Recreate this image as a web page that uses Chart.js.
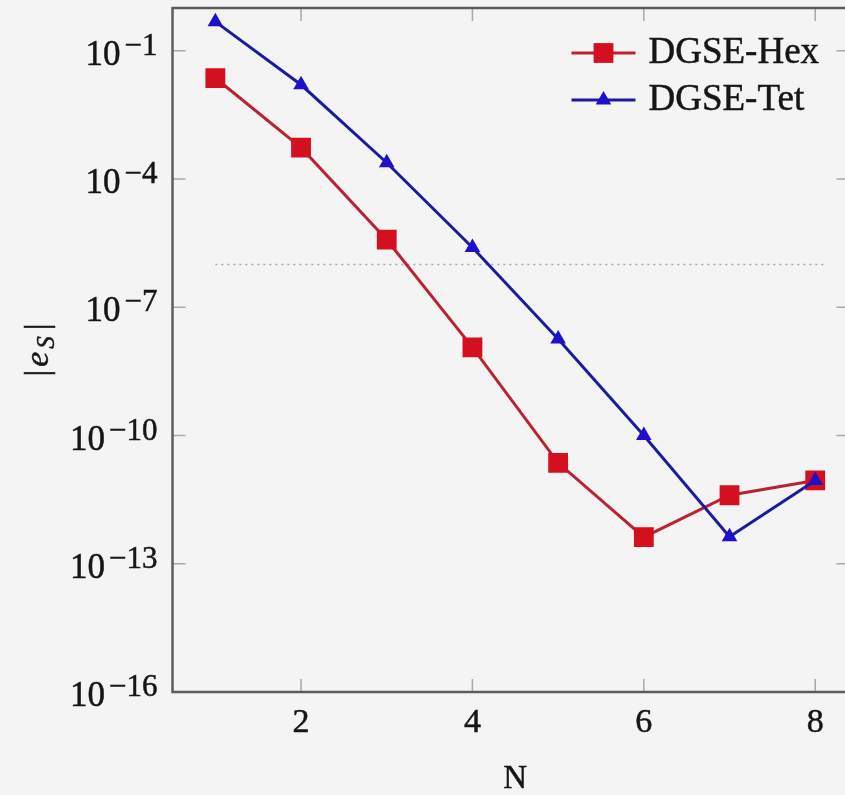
<!DOCTYPE html>
<html>
<head>
<meta charset="utf-8">
<script src="https://cdn.jsdelivr.net/npm/chart.js@4.4.1/dist/chart.umd.min.js"></script>
<style>
  html, body { margin: 0; padding: 0; background: #f4f4f4; overflow: hidden; }
  canvas { display: block; }
</style>
</head>
<body>
<canvas id="errChart" width="870" height="795"></canvas>
<script>
// polynomial order N and the error |e_S|
const orders = [1, 2, 3, 4, 5, 6, 7, 8];
const hexErr = [2.3e-2, 5.4e-4, 3.8e-6, 1.15e-8, 2.3e-11, 4.2e-13, 4.0e-12, 8.9e-12];
const tetErr = [4.8e-1, 1.6e-2, 2.4e-4, 2.5e-6, 1.8e-8, 1.0e-10, 4.3e-13, 8.9e-12];

// dotted reference level
const refLevel = 1e-6;
const refSpan = [1, 8.1];

const xTicks = [2, 4, 6, 8];
const yTicks = [1e-1, 1e-4, 1e-7, 1e-10, 1e-13, 1e-16];
const yExponents = [-1, -4, -7, -10, -13, -16];
const seriesNames = ["DGSE-Hex", "DGSE-Tet"];

const serif = '"Liberation Serif", "DejaVu Serif", serif';
const inkColor = "#161616";

function drawMarker(ctx, style, r, x, y) {
    ctx.beginPath();
    if (style === "rect") {
        const s = Math.SQRT1_2 * r;
        ctx.rect(x - s, y - s, 2 * s, 2 * s);
    } else {
        ctx.moveTo(x, y - r);
        ctx.lineTo(x + Math.sin(Math.PI / 3) * r, y + r / 2);
        ctx.lineTo(x - Math.sin(Math.PI / 3) * r, y + r / 2);
        ctx.closePath();
    }
    ctx.fill();
}

// filled text with a thin outline so it reads as heavy as the scan
function inkText(ctx, str, x, y) {
    ctx.fillText(str, x, y);
    ctx.strokeText(str, x, y);
}

const framePlugin = {
    id: "frame",
    beforeDraw(chart) {
        const ctx = chart.ctx;
        ctx.save();
        ctx.fillStyle = "#f4f4f4";
        ctx.fillRect(0, 0, chart.width, chart.height);
        ctx.restore();
    },
    beforeDatasetsDraw(chart) {
        const { ctx, chartArea: a, scales: { x, y } } = chart;
        const tl = 13;
        ctx.save();
        // inward ticks on all four sides
        ctx.strokeStyle = "#a8a8a8";
        ctx.lineWidth = 1.5;
        ctx.beginPath();
        xTicks.forEach(v => {
            const px = x.getPixelForValue(v);
            ctx.moveTo(px, a.bottom); ctx.lineTo(px, a.bottom - tl);
            ctx.moveTo(px, a.top); ctx.lineTo(px, a.top + tl);
        });
        yTicks.forEach(v => {
            const py = y.getPixelForValue(v);
            ctx.moveTo(a.left, py); ctx.lineTo(a.left + tl, py);
            ctx.moveTo(a.right, py); ctx.lineTo(a.right - tl, py);
        });
        ctx.stroke();
        ctx.strokeStyle = "#5c5c5c";
        ctx.lineWidth = 2.5;
        ctx.strokeRect(a.left, a.top, a.right - a.left, a.bottom - a.top);
        ctx.restore();
    },
    afterDraw(chart) {
        const { ctx, chartArea: a, scales: { x, y } } = chart;
        ctx.save();
        ctx.fillStyle = inkColor;
        ctx.strokeStyle = inkColor;
        ctx.lineWidth = 0.5;
        ctx.textBaseline = "alphabetic";

        // y tick labels: 10 with a raised exponent
        const labRight = a.left - 15;
        yTicks.forEach((v, i) => {
            const py = y.getPixelForValue(v);
            const exp = "\u2212" + Math.abs(yExponents[i]);
            ctx.textAlign = "right";
            ctx.font = `31px ${serif}`;
            const ew = ctx.measureText(exp).width;
            inkText(ctx, exp, labRight, py + 4);
            ctx.font = `35px ${serif}`;
            inkText(ctx, "10", labRight - ew - 4, py + 14);
        });

        // x tick labels
        ctx.font = `34px ${serif}`;
        ctx.textAlign = "center";
        xTicks.forEach(v => {
            inkText(ctx, String(v), x.getPixelForValue(v), a.bottom + 40);
        });

        // x title
        ctx.font = `33px ${serif}`;
        inkText(ctx, "N", x.getPixelForValue(4.5), a.bottom + 96);

        // y title |e_S|, rotated
        ctx.save();
        ctx.translate(37, 350);
        ctx.rotate(-Math.PI / 2);
        ctx.textAlign = "left";
        const bigF = `34px ${serif}`, itF = `italic 34px ${serif}`, subF = `italic 25px ${serif}`;
        ctx.font = bigF; const wBar = ctx.measureText("|").width;
        ctx.font = itF; const wE = ctx.measureText("e").width;
        ctx.font = subF; const wS = ctx.measureText("S").width;
        const gap = 3;
        const total = wBar * 2 + wE + wS + gap * 4;
        let cx = -total / 2;
        ctx.font = bigF; inkText(ctx, "|", cx, 11); cx += wBar + gap;
        ctx.font = itF; inkText(ctx, "e", cx, 11); cx += wE + gap;
        ctx.font = subF; inkText(ctx, "S", cx, 17); cx += wS + gap * 2;
        ctx.font = bigF; inkText(ctx, "|", cx, 11);
        ctx.restore();

        // legend inside the axes, top right
        const lx1 = a.right - 278, lx2 = a.right - 214, tx = a.right - 201;
        const rows = [a.top + 45, a.top + 92];
        ctx.font = `37px ${serif}`;
        ctx.textAlign = "left";
        seriesNames.forEach((name, i) => {
            const ds = chart.data.datasets.find(d => d.label === name);
            const ly = rows[i];
            ctx.strokeStyle = ds.borderColor;
            ctx.lineWidth = ds.borderWidth;
            ctx.beginPath();
            ctx.moveTo(lx1, ly); ctx.lineTo(lx2, ly);
            ctx.stroke();
            ctx.fillStyle = ds.pointBackgroundColor;
            drawMarker(ctx, ds.pointStyle, ds.pointRadius, (lx1 + lx2) / 2, ly);
            ctx.fillStyle = inkColor;
            ctx.strokeStyle = inkColor;
            ctx.lineWidth = 0.5;
            inkText(ctx, name, tx, ly + 10);
        });
        ctx.restore();
    }
};

const ctx = document.getElementById("errChart").getContext("2d");

new Chart(ctx, {
    type: "line",
    data: {
        datasets: [
            {
                label: "DGSE-Tet",
                data: orders.map((n, i) => ({ x: n, y: tetErr[i] })),
                borderColor: "#1c1c9e",
                borderWidth: 3,
                pointStyle: "triangle",
                pointRadius: 9,
                pointBackgroundColor: "#1f10cc",
                pointBorderColor: "#1f10cc",
                pointBorderWidth: 0,
                tension: 0
            },
            {
                label: "DGSE-Hex",
                data: orders.map((n, i) => ({ x: n, y: hexErr[i] })),
                borderColor: "#bb2232",
                borderWidth: 3,
                pointStyle: "rect",
                pointRadius: 14,
                pointBackgroundColor: "#d40f20",
                pointBorderColor: "#d40f20",
                pointBorderWidth: 0,
                tension: 0
            },
            {
                label: "ref",
                data: refSpan.map(n => ({ x: n, y: refLevel })),
                borderColor: "#a8a8a8",
                borderWidth: 1.5,
                borderDash: [2, 4],
                pointRadius: 0
            }
        ]
    },
    options: {
        responsive: false,
        animation: false,
        layout: {
            autoPadding: false,
            padding: { left: 172.5, right: 20.5, top: 8, bottom: 103 }
        },
        plugins: {
            legend: { display: false },
            tooltip: { enabled: false }
        },
        scales: {
            x: { type: "linear", min: 0.5, max: 8.4, display: false },
            y: { type: "logarithmic", min: 1e-16, max: 1, display: false }
        }
    },
    plugins: [framePlugin]
});
</script>
</body>
</html>
